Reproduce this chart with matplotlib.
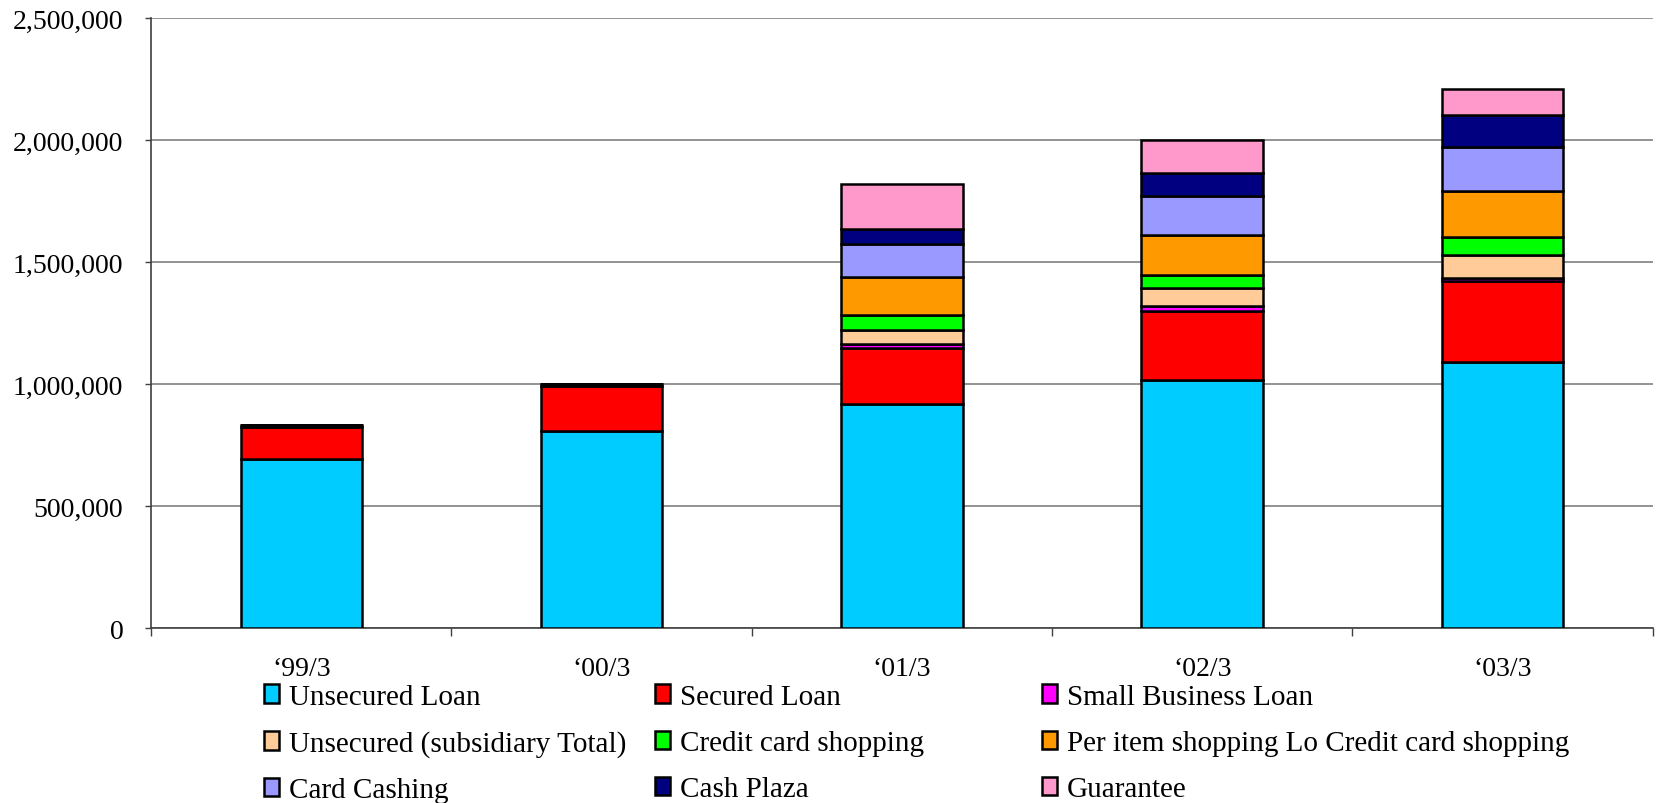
import matplotlib.pyplot as plt
import numpy as np
from matplotlib.ticker import FuncFormatter, FixedLocator

plt.rcParams.update({
    'font.family': ['Liberation Serif', 'DejaVu Serif'],
    'font.size': 20,
})

# 年度（千円単位ではなく残高そのもの）
periods = ['\u201899/3', '\u201800/3', '\u201801/3', '\u201802/3', '\u201803/3']

unsecured_loan = [693000, 808000, 918000, 1018000, 1089000]
secured_loan = [131000, 183000, 228000, 282000, 332000]
small_business_loan = [8000, 8000, 19000, 21000, 13000]
unsecured_subsidiary = [0, 0, 55000, 71000, 95000]
credit_card_shopping = [0, 0, 63000, 55000, 72000]
per_item_shopping = [0, 0, 154000, 164000, 191000]
card_cashing = [0, 0, 137000, 161000, 180000]
cash_plaza = [0, 0, 61000, 94000, 130000]
guarantee = [0, 0, 185000, 134000, 107000]

series = [
    ('Unsecured Loan', unsecured_loan, '#00CCFF'),
    ('Secured Loan', secured_loan, '#FF0000'),
    ('Small Business Loan', small_business_loan, '#FF00FF'),
    ('Unsecured (subsidiary Total)', unsecured_subsidiary, '#FFCC99'),
    ('Credit card shopping', credit_card_shopping, '#00FF00'),
    ('Per item shopping Lo Credit card shopping', per_item_shopping, '#FF9900'),
    ('Card Cashing', card_cashing, '#9999FF'),
    ('Cash Plaza', cash_plaza, '#000080'),
    ('Guarantee', guarantee, '#FF99CC'),
]

fig = plt.figure(figsize=(16.58, 8.04), dpi=100)
ax = fig.add_axes([151.2 / 1658, 1 - 629.1 / 804, (1652.7 - 151.2) / 1658, (629.1 - 19.0) / 804])

x = np.arange(len(periods))
bottom = np.zeros(len(periods))
handles = []
for name, vals, color in series:
    vals = np.array(vals, dtype=float)
    b = ax.bar(x, vals, width=0.405, bottom=bottom, color=color,
               edgecolor='black', linewidth=1.8, label=name, zorder=3)
    handles.append(b)
    bottom += vals

ax.set_xlim(-0.5, len(periods) - 0.5)
ax.set_ylim(0, 2500000)
ax.set_yticks(np.arange(0, 2500001, 500000))
ax.yaxis.set_major_formatter(FuncFormatter(lambda v, p: f'{int(v):,}'))
ax.grid(axis='y', color='#808080', linewidth=1.2, zorder=0)

ax.set_xticks(x)
ax.set_xticklabels(periods)
ax.xaxis.set_minor_locator(FixedLocator(np.arange(-0.5, len(periods), 1.0)))
ax.tick_params(axis='x', which='major', length=0, pad=20)
ax.tick_params(axis='x', which='minor', length=6, width=1, color='#404040', direction='out')
ax.tick_params(axis='y', length=4, width=1, color='#404040', pad=16)

for s in ['top', 'right']:
    ax.spines[s].set_visible(False)
ax.spines['left'].set_color('#404040')
ax.spines['bottom'].set_color('#404040')
ax.spines['left'].set_linewidth(1.2)
ax.spines['bottom'].set_linewidth(1.2)

# 凡例は列ごとに配置
col_x = [264 / 1658, 655 / 1658, 1042 / 1658]
for c in range(3):
    idx = [c, c + 3, c + 6]
    leg = fig.legend([handles[i] for i in idx], [series[i][0] for i in idx],
                     loc='upper left', bbox_to_anchor=(col_x[c], 1 - 685 / 804),
                     frameon=False, borderpad=0, borderaxespad=0,
                     handlelength=0.5, handleheight=0.6, handletextpad=0.35,
                     labelspacing=0.69, fontsize=21)

fig.savefig('out.png', dpi=100)
